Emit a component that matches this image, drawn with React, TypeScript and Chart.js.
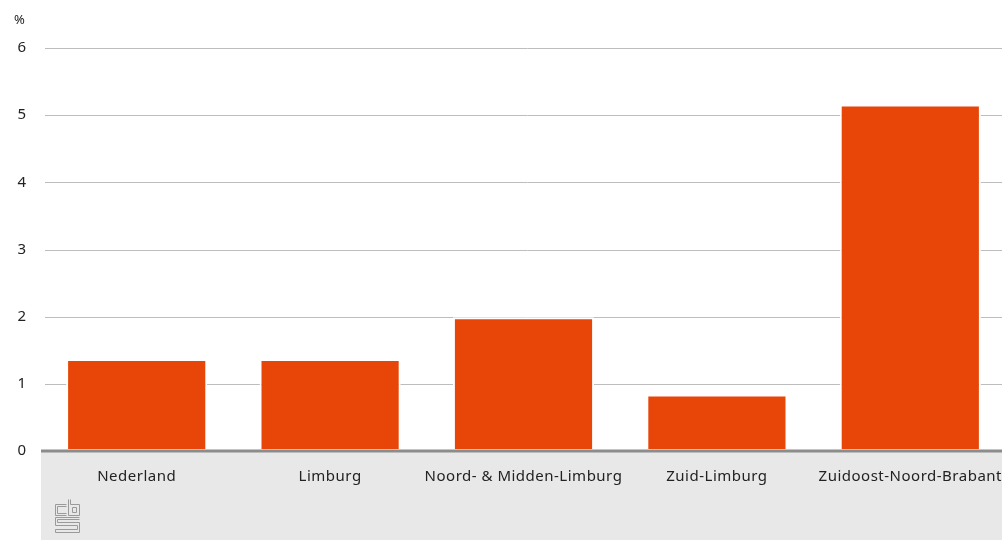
import React, { useEffect, useRef } from "react";
import { Chart, registerables } from "chart.js";

Chart.register(...registerables);

const categories = ["Nederland", "Limburg", "Noord- & Midden-Limburg", "Zuid-Limburg", "Zuidoost-Noord-Brabant"];
const values = [1.37, 1.37, 1.99, 0.84, 5.16];
const yTicks = [0, 1, 2, 3, 4, 5, 6];
const unitLabel = "%";

const FONT = "'Noto Sans', 'Open Sans', sans-serif";

const decorPlugin = {
  id: "decor",
  beforeDraw(chart: any) {
    const { ctx, scales } = chart;
    const y0 = scales.y.getPixelForValue(0);
    ctx.save();
    ctx.fillStyle = "#e8e8e8";
    ctx.fillRect(41, y0, chart.width, chart.height - y0);
    // gridlines
    ctx.strokeStyle = "#bdbdbd";
    ctx.lineWidth = 1;
    for (const t of yTicks) {
      if (t === 0) continue;
      const y = Math.round(scales.y.getPixelForValue(t)) + 0.5;
      ctx.beginPath();
      ctx.moveTo(45, y);
      ctx.lineTo(chart.width, y);
      ctx.stroke();
    }
    // unit label
    ctx.fillStyle = "#222";
    ctx.font = `13px ${FONT}`;
    ctx.textAlign = "left";
    ctx.textBaseline = "middle";
    ctx.fillText(unitLabel, 14, 20);
    // x labels
    ctx.font = `15px ${FONT}`;
    (ctx as any).letterSpacing = "0.5px";
    ctx.textAlign = "center";
    ctx.textBaseline = "alphabetic";
    categories.forEach((c, i) => {
      const x = scales.x.getPixelForValue(i);
      ctx.fillText(c, x, y0 + 30);
    });
    (ctx as any).letterSpacing = "0px";
    // logo
    ctx.strokeStyle = "#9a9a9a";
    ctx.lineWidth = 1;
    const lx = 55.5, ly = 499.5;
    ctx.beginPath();
    // c
    ctx.moveTo(lx + 11, ly + 5); ctx.lineTo(lx, ly + 5); ctx.lineTo(lx, ly + 16); ctx.lineTo(lx + 11, ly + 16);
    ctx.moveTo(lx + 11, ly + 7); ctx.lineTo(lx + 2, ly + 7); ctx.lineTo(lx + 2, ly + 14); ctx.lineTo(lx + 11, ly + 14);
    // b
    ctx.moveTo(lx + 13, ly); ctx.lineTo(lx + 13, ly + 16); ctx.lineTo(lx + 24, ly + 16); ctx.lineTo(lx + 24, ly + 5); ctx.lineTo(lx + 15, ly + 5); ctx.lineTo(lx + 15, ly);
    ctx.rect(lx + 17, ly + 8, 4, 5);
    // s
    ctx.moveTo(lx + 24, ly + 18); ctx.lineTo(lx, ly + 18); ctx.lineTo(lx, ly + 26); ctx.lineTo(lx + 22, ly + 26); ctx.lineTo(lx + 22, ly + 30); ctx.lineTo(lx, ly + 30); ctx.lineTo(lx, ly + 33);
    ctx.lineTo(lx + 24, ly + 33); ctx.lineTo(lx + 24, ly + 23); ctx.lineTo(lx + 2, ly + 23); ctx.lineTo(lx + 2, ly + 20); ctx.lineTo(lx + 24, ly + 20);
    ctx.stroke();
    ctx.restore();
  },
  afterDatasetsDraw(chart: any) {
    const { ctx, scales } = chart;
    const y0 = scales.y.getPixelForValue(0);
    ctx.save();
    ctx.strokeStyle = "#8c8c8c";
    ctx.lineWidth = 3;
    ctx.beginPath();
    ctx.moveTo(41, y0);
    ctx.lineTo(chart.width, y0);
    ctx.stroke();
    ctx.restore();
  },
};

export default function App() {
  const ref = useRef<HTMLCanvasElement>(null);
  useEffect(() => {
    const chart = new Chart(ref.current!, {
      type: "bar",
      data: {
        labels: categories,
        datasets: [
          {
            data: values,
            backgroundColor: "#e84508",
            borderColor: "#ffffff",
            borderWidth: 2,
            borderSkipped: false,
            barPercentage: 0.73,
            categoryPercentage: 1,
          },
        ],
      },
      options: {
        animation: false,
        responsive: false,
        maintainAspectRatio: false,
        layout: { padding: { top: 48, right: 3, left: 0, bottom: 0 } },
        plugins: { legend: { display: false }, tooltip: { enabled: false } },
        scales: {
          x: {
            grid: { display: false, drawTicks: false },
            border: { display: false },
            ticks: { display: false },
            afterFit: (s: any) => { s.height = 89; },
          },
          y: {
            min: 0,
            max: 6,
            grid: { display: false, drawTicks: false },
            border: { display: false },
            ticks: { stepSize: 1, color: "#222", font: { family: FONT, size: 15 }, padding: 14 },
            afterFit: (s: any) => { s.width = 40; },
          },
        },
      },
      plugins: [decorPlugin],
    });
    return () => chart.destroy();
  }, []);
  return (
    <div style={{ position: "absolute", left: 0, top: 0, width: 1002, height: 540, overflow: "hidden", background: "#fff" }}>
      <canvas ref={ref} width={1010} height={540} style={{ display: "block" }} />
    </div>
  );
}
